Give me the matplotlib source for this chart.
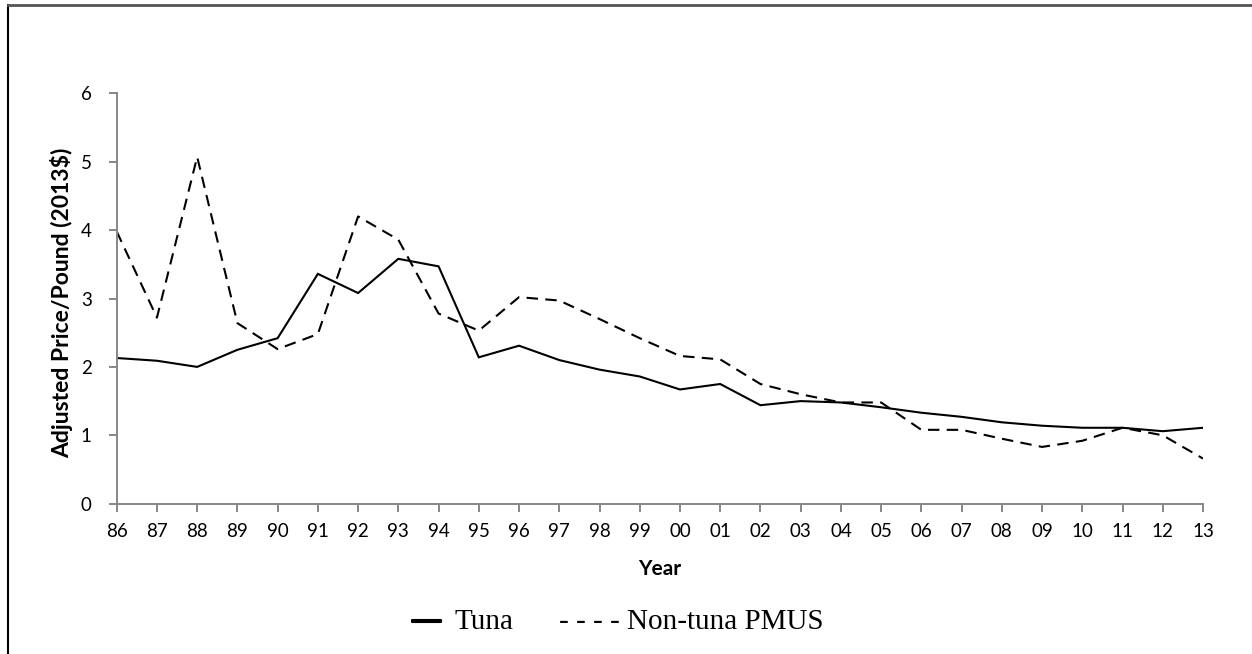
import matplotlib
matplotlib.use("Agg")
import matplotlib.pyplot as plt
from matplotlib.lines import Line2D
import matplotlib.patheffects as pe

years = ["86", "87", "88", "89", "90", "91", "92", "93", "94", "95", "96", "97", "98", "99",
         "00", "01", "02", "03", "04", "05", "06", "07", "08", "09", "10", "11", "12", "13"]
tuna = [2.13, 2.09, 2.00, 2.25, 2.42, 3.36, 3.08, 3.58, 3.47, 2.14, 2.31, 2.10, 1.96, 1.86,
        1.67, 1.75, 1.44, 1.50, 1.48, 1.41, 1.33, 1.27, 1.19, 1.14, 1.11, 1.11, 1.06, 1.11]
non_tuna = [3.98, 2.72, 5.07, 2.64, 2.26, 2.48, 4.20, 3.86, 2.78, 2.53, 3.02, 2.97, 2.70, 2.42,
            2.16, 2.11, 1.75, 1.60, 1.48, 1.48, 1.08, 1.08, 0.95, 0.83, 0.92, 1.11, 1.00, 0.66]
y_ticks = [0, 1, 2, 3, 4, 5, 6]

W, H = 1252, 654
fig = plt.figure(figsize=(W / 100, H / 100), dpi=100)
ax = fig.add_axes([116.7 / W, 1 - 503.7 / H, (1203 - 116.7) / W, (503.7 - 93.3) / H])

x = list(range(len(years)))
ax.plot(x, tuna, color="black", lw=1.5, solid_joinstyle="miter")
ax.plot(x, non_tuna, color="black", lw=1.5, linestyle=(0, (5.5, 3.5)))

ax.set_xlim(0, len(years) - 1)
ax.set_ylim(0, 6)
ax.set_xticks(x)
ax.set_xticklabels(years)
ax.set_yticks(y_ticks)

for s in ["top", "right"]:
    ax.spines[s].set_visible(False)
for s in ["left", "bottom"]:
    ax.spines[s].set_color("#878787")
    ax.spines[s].set_linewidth(1.4)
ax.tick_params(axis="both", colors="#878787", width=1.4, length=6, direction="out",
               labelcolor="black", labelsize=13.5)
ax.tick_params(axis="x", pad=8)
ax.tick_params(axis="y", pad=12)
for lab in ax.get_xticklabels() + ax.get_yticklabels():
    lab.set_fontfamily("Lato")

# axis titles
fig.text(62 / W, 1 - 303 / H, "Adjusted Price/Pound (2013$)", rotation=90, fontsize=16.5,
         fontweight="bold", fontfamily="Lato", ha="center", va="center")
fig.text(660 / W, 1 - 569 / H, "Year", fontsize=15, fontweight="bold", fontfamily="Lato",
         ha="center", va="center")

# legend as text
fig.text(412 / W, 1 - 621 / H, "\u2014", fontsize=21, fontfamily="Liberation Serif",
         ha="left", va="center",
         path_effects=[pe.withStroke(linewidth=1.5, foreground="black")])
fig.text(455 / W, 1 - 622 / H, "Tuna", fontsize=21, fontfamily="Liberation Serif",
         ha="left", va="center")
fig.text(559 / W, 1 - 622 / H, "- - - -", fontsize=21, fontfamily="Liberation Serif",
         ha="left", va="center")
fig.text(627 / W, 1 - 622 / H, "Non-tuna PMUS", fontsize=21, fontfamily="Liberation Serif",
         ha="left", va="center")

# frame lines
fig.add_artist(Line2D([7.5 / W, 7.5 / W], [0, 1 - 4.5 / H], color="black", lw=1.5,
                      transform=fig.transFigure))
fig.add_artist(Line2D([7.5 / W, 1], [1 - 5 / H, 1 - 5 / H], color="#555555", lw=2,
                      transform=fig.transFigure))

fig.savefig("out.png", dpi=100, facecolor="white")
